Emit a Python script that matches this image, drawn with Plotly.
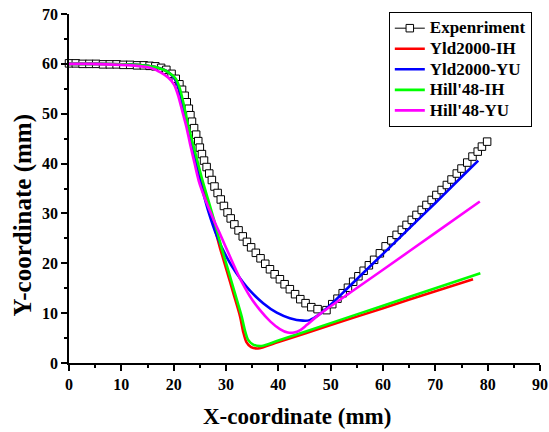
import plotly.graph_objects as go

# ---------------- data ----------------
exp_x = [0, 1.3, 2.6, 3.9, 5.2, 6.5, 7.8, 9.1, 10.4, 11.7, 13.0, 14.3, 15.4,
         16.5, 17.6, 18.6, 19.6, 20.4, 21.1, 21.6, 22.1, 22.5, 22.9, 23.2, 23.5,
         23.9, 24.3, 24.7, 25.0, 25.4, 25.8, 26.3, 26.8, 27.3, 27.8, 28.4, 29.0,
         29.6, 30.3, 30.9, 31.6, 32.4, 33.2, 34.0, 34.8, 35.7, 36.6, 37.5, 38.4,
         39.3, 40.3, 41.2, 42.2, 43.2, 44.2, 45.2, 46.3, 47.5,
         49.2, 50.3, 51.3, 52.3, 53.3, 54.3, 55.3, 56.3, 57.3, 58.3, 59.4, 60.5,
         61.6, 62.6, 63.6, 64.5, 65.5, 66.4, 67.4, 68.3, 69.3, 70.2, 71.2, 72.2,
         73.1, 74.1, 75.0, 76.1, 77.1, 78.1, 78.9, 79.9]
exp_y = [60.1, 60.1, 60.0, 60.0, 60.0, 59.9, 59.9, 59.9, 59.8, 59.8, 59.7, 59.7, 59.6,
         59.5, 59.2, 58.8, 58.0, 57.0, 55.9, 54.8, 53.6, 52.3, 51.0, 49.7, 48.4,
         47.1, 45.8, 44.5, 43.2, 41.9, 40.6, 39.3, 38.0, 36.7, 35.4, 34.1, 32.8,
         31.5, 30.2, 29.0, 27.8, 26.6, 25.4, 24.3, 23.2, 22.1, 21.0, 19.9, 18.8,
         17.8, 16.8, 15.8, 14.8, 13.8, 12.8, 12.0, 11.2, 10.8,
         10.6, 11.8, 12.9, 14.0, 15.1, 16.3, 17.4, 18.5, 19.6, 20.7, 22.0, 23.4,
         24.6, 25.7, 26.7, 27.7, 28.7, 29.7, 30.7, 31.7, 32.7, 33.7, 34.7, 35.7,
         36.8, 38.0, 39.0, 40.2, 41.4, 42.4, 43.4, 44.4]

yld_ih_x = [0, 5, 10, 14, 17, 19, 20.2, 21.0, 21.7, 22.5, 23.7, 25.0, 26.3, 27.6,
            28.8, 30.1, 31.4, 32.7, 33.3, 33.9, 34.8, 36.1, 40, 50, 60, 70, 77.2]
yld_ih_y = [60.0, 60.0, 59.9, 59.7, 59.2, 58.3, 57.0, 55.0, 52.0, 48.0, 42.7, 37.4, 32.7, 28.0,
            23.3, 18.7, 14.0, 9.3, 6.2, 4.2, 3.2, 2.9, 4.2, 7.6, 11.0, 14.4, 16.8]

yld_yu_x = [0, 5, 10, 14, 17, 19, 20.2, 21.0, 21.7, 22.5, 23.5, 24.5, 25.6, 26.6,
            28.2, 30.1, 32.0, 34.5, 37.1, 39.7, 42.2, 44.7, 46.0, 47.9, 50.2, 53.7,
            60, 65, 70, 75, 78.2]
yld_yu_y = [60.0, 60.0, 59.9, 59.7, 59.2, 58.3, 57.0, 55.0, 52.0, 48.0, 43.5, 38.8, 34.3, 30.5,
            25.6, 21.3, 18.0, 14.6, 12.0, 10.1, 9.0, 8.5, 8.6, 9.8, 11.9, 15.5,
            21.9, 27.0, 32.1, 37.3, 40.6]

hill_ih_x = [0, 5, 10, 14, 17, 19, 20.4, 21.2, 21.9, 22.7, 24.0, 25.3, 26.6, 27.9,
             29.1, 30.4, 31.7, 33.0, 33.6, 34.2, 35.2, 36.8, 40, 50, 60, 70, 78.6]
hill_ih_y = [60.0, 60.0, 59.9, 59.7, 59.2, 58.3, 57.0, 55.0, 52.0, 48.0, 42.7, 37.4, 32.7, 28.0,
             23.3, 18.7, 14.0, 9.3, 6.6, 4.7, 3.7, 3.4, 4.5, 8.0, 11.5, 15.0, 18.0]

hill_yu_x = [0, 5, 10, 13, 15.5, 17.5, 19.0, 20.1, 20.9, 21.6, 22.4, 23.1, 24.0, 24.8,
             25.9, 27.5, 29.1, 30.7, 32.6, 34.5, 36.5, 38.5, 40.3, 41.8, 43.0, 44.2,
             45.4, 47.9, 53.7, 60, 70, 78.5]
hill_yu_y = [60.0, 60.0, 59.8, 59.6, 59.2, 58.3, 57.2, 55.8, 53.5, 50.7, 47.5, 44.1, 40.0, 36.5,
             33.2, 29.1, 25.3, 21.5, 17.1, 13.5, 10.6, 8.3, 6.8, 6.1, 6.1, 6.6,
             7.6, 9.8, 14.1, 18.7, 26.1, 32.4]

names = ["Expenriment", "Yld2000-IH", "Yld2000-YU", "Hill'48-IH", "Hill'48-YU"]
x_ticks = [0, 10, 20, 30, 40, 50, 60, 70, 80, 90]
y_ticks = [0, 10, 20, 30, 40, 50, 60, 70]

FONT = "Liberation Serif"


def legend_label(s):
    return '<span style="font-size:17px">' + s + '</span>'


fig = go.Figure()
fig.add_trace(go.Scatter(
    x=exp_x, y=exp_y, name=legend_label(names[0]), mode="lines+markers",
    line=dict(color="black", width=1),
    marker=dict(symbol="square", size=7.5, color="white",
                line=dict(color="black", width=1)),
    cliponaxis=False))

model_sets = [(yld_ih_x, yld_ih_y, "#FF0000"),
              (yld_yu_x, yld_yu_y, "#0000FF"),
              (hill_ih_x, hill_ih_y, "#00FF00"),
              (hill_yu_x, hill_yu_y, "#FF00FF")]
for (xs, ys, col), nm in zip(model_sets, names[1:]):
    fig.add_trace(go.Scatter(
        x=xs, y=ys, name=legend_label(nm), mode="lines",
        line=dict(color=col, width=2.6, shape="spline", smoothing=0.7),
        cliponaxis=False))

axis_common = dict(
    showline=True, linecolor="black", linewidth=1.5,
    ticks="outside", ticklen=6, tickwidth=1.5, tickcolor="black",
    showgrid=False, zeroline=False, automargin=False,
    tickfont=dict(family=FONT, size=16, color="black", weight="bold"),
    minor=dict(ticks="outside", ticklen=3, tickwidth=1.5, tickcolor="black"),
)

fig.update_xaxes(range=[0, 90], tickvals=x_ticks, minor_dtick=5, minor_tick0=0,
                 **axis_common)
fig.update_yaxes(range=[0, 70], tickvals=y_ticks, minor_dtick=5, minor_tick0=0,
                 **axis_common)

fig.update_layout(
    width=549, height=432, autosize=False,
    margin=dict(l=69, r=9, t=14, b=69, pad=0),
    paper_bgcolor="white", plot_bgcolor="white",
    font=dict(family=FONT, color="black"),
    showlegend=True,
    legend=dict(x=0.679, y=1.006, xanchor="left", yanchor="top",
                bordercolor="black", borderwidth=1, bgcolor="white",
                font=dict(family=FONT, size=13.5, color="black", weight="bold"),
                tracegroupgap=0, itemwidth=30),
    annotations=[
        dict(text="X-coordinate (mm)", xref="paper", yref="paper",
             x=0.484, y=-0.154, xanchor="center", yanchor="middle",
             showarrow=False,
             font=dict(family=FONT, size=23, color="black", weight="bold")),
        dict(text="Y-coordinate (mm)", xref="paper", yref="paper",
             x=-0.098, y=0.425, xanchor="center", yanchor="middle",
             textangle=-90, showarrow=False,
             font=dict(family=FONT, size=25, color="black", weight="bold")),
    ],
)

fig.write_html(
    "out.html",
    config={"responsive": False, "displayModeBar": False},
    post_script="document.body.style.margin='0';document.body.style.overflow='hidden';",
)
